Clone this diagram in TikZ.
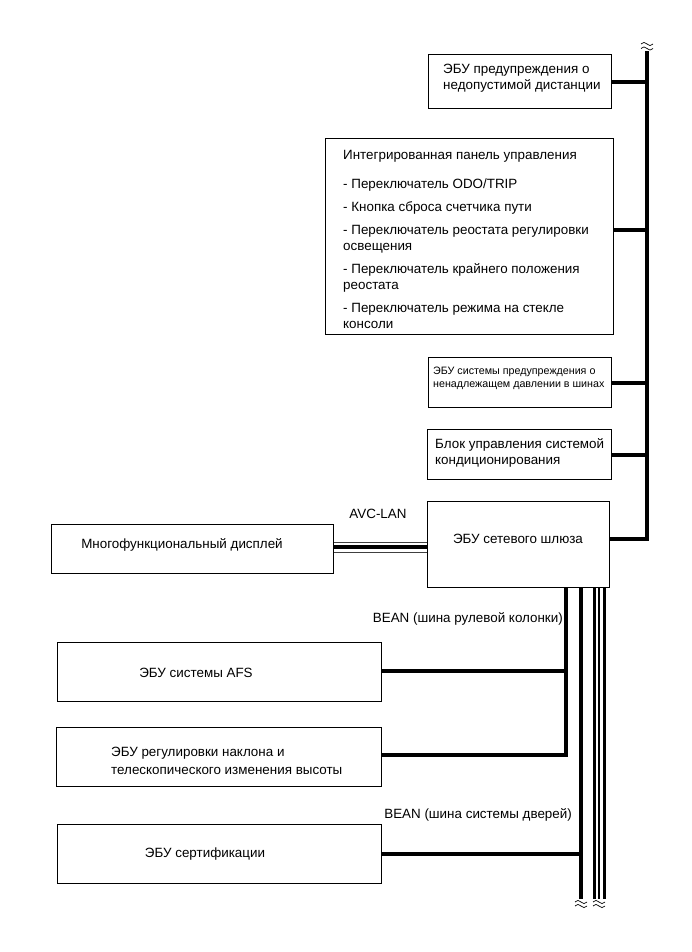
\documentclass[tikz,border=0pt]{standalone}
\usepackage{fontspec}
\setmainfont{Liberation Sans}
\begin{document}
\begin{tikzpicture}[x=1pt,y=-1pt,
  box/.style={draw, line width=1.1pt, inner sep=0pt, anchor=north west},
  txt/.style={inner sep=0pt, align=left, font=\fontsize{13.4}{16}\selectfont},
  smalltxt/.style={inner sep=0pt, align=left, font=\fontsize{10.7}{13}\selectfont},
  conn/.style={line width=4pt, line join=miter},
  thinl/.style={line width=1.2pt},
  avcedge/.style={line width=0.9pt, draw=black!75},
  brk/.pic={\draw[line width=0.7pt] (-6,0) sin (-3,-1.6) cos (0,0) sin (3,1.6) cos (6,0);}
]
\useasboundingbox (0,0) rectangle (691,952);

% bus coordinates
\coordinate (bustop) at (647,51);
\coordinate (xa) at (566,0);
\coordinate (xb) at (581,0);
\coordinate (xc) at (594,0);
\coordinate (xd) at (599,0);
\coordinate (xe) at (604,0);
\coordinate (yend) at (0,899);
\coordinate (avcy) at (0,547);
\coordinate (avcyt) at (0,542);
\coordinate (avcyb) at (0,552);

% boxes
\node[box, minimum width=183pt, minimum height=54pt] (dist) at (428,54) {};
\node[txt, anchor=west] (distt) at (443,78) {ЭБУ предупреждения о\\недопустимой дистанции};

\node[box, minimum width=288pt, minimum height=196pt] (panel) at (325,138) {};
\node[txt, anchor=west] (panelt) at (343,239) {Интегрированная панель управления\\[13pt]- Переключатель ODO/TRIP\\[7pt]- Кнопка сброса счетчика пути\\[7pt]- Переключатель реостата регулировки\\освещения\\[7pt]- Переключатель крайнего положения\\реостата\\[7pt]- Переключатель режима на стекле\\консоли};

\node[box, minimum width=183pt, minimum height=50pt] (tpms) at (428,357) {};
\node[smalltxt, anchor=west] (tpmst) at (433,378) {ЭБУ системы предупреждения о\\ненадлежащем давлении в шинах};

\node[box, minimum width=184pt, minimum height=50pt] (ac) at (427,429) {};
\node[txt, anchor=west] (act) at (435,453) {Блок управления системой\\кондиционирования};

\node[box, minimum width=182pt, minimum height=86pt] (gw) at (427,501) {};
\node[txt] (gwt) at (518,539) {ЭБУ сетевого шлюза};

\node[box, minimum width=282pt, minimum height=49pt] (mfd) at (51,524) {};
\node[txt] (mfdt) at (182,545) {Многофункциональный дисплей};
\node[txt] (avc) at (378,514) {AVC-LAN};

\node[box, minimum width=324pt, minimum height=59pt] (afs) at (57,642) {};
\node[txt] (afst) at (196,673) {ЭБУ системы AFS};

\node[box, minimum width=325pt, minimum height=59pt] (tilt) at (56,727) {};
\node[txt, anchor=west] (tiltt) at (111,761) {ЭБУ регулировки наклона и\\[1.5pt]телескопического изменения высоты};

\node[txt, anchor=east] (bean1) at (563,619) {BEAN (шина рулевой колонки)};

\node[box, minimum width=324pt, minimum height=59pt] (cert) at (57,824) {};
\node[txt] (certt) at (205,854) {ЭБУ сертификации};
\node[txt, anchor=east] (bean2) at (572,815) {BEAN (шина системы дверей)};

% right bus
\draw[conn] ([yshift=6pt]gw.east) -- ([yshift=6pt]gw.east -| bustop) -- (bustop);
\draw[conn] (dist.east) -- (dist.east -| bustop);
\draw[conn] ([yshift=7pt]panel.east) -- ([yshift=7pt]panel.east -| bustop);
\draw[conn] (tpms.east) -- (tpms.east -| bustop);
\draw[conn] (ac.east) -- (ac.east -| bustop);
\pic at (647,44) {brk};
\pic at (647,48.5) {brk};

% AVC-LAN
\draw[avcedge] (mfd.east |- avcyt) -- (gw.west |- avcyt);
\draw[avcedge] (mfd.east |- avcyb) -- (gw.west |- avcyb);
\draw[conn] (mfd.east |- avcy) -- (gw.west |- avcy);

% BEAN steering column
\draw[conn] (gw.south -| xa) -- ([yshift=2pt]tilt.east -| xa) -- ([yshift=2pt]tilt.east);
\draw[conn] ([yshift=1pt]afs.east) -- ([yshift=1pt]afs.east -| xa);

% BEAN door
\draw[line width=3.2pt] (gw.south -| xb) -- (yend -| xb);
\draw[conn] (cert.east) -- (cert.east -| xb);

% other lines
\draw[line width=3pt] (gw.south -| xc) -- (yend -| xc);
\draw[thinl] (gw.south -| xd) -- (yend -| xd);
\draw[line width=3pt] (gw.south -| xe) -- (yend -| xe);

\pic at (581,902) {brk};
\pic at (581,906) {brk};
\pic at (599,902) {brk};
\pic at (599,906) {brk};
\end{tikzpicture}
\end{document}
